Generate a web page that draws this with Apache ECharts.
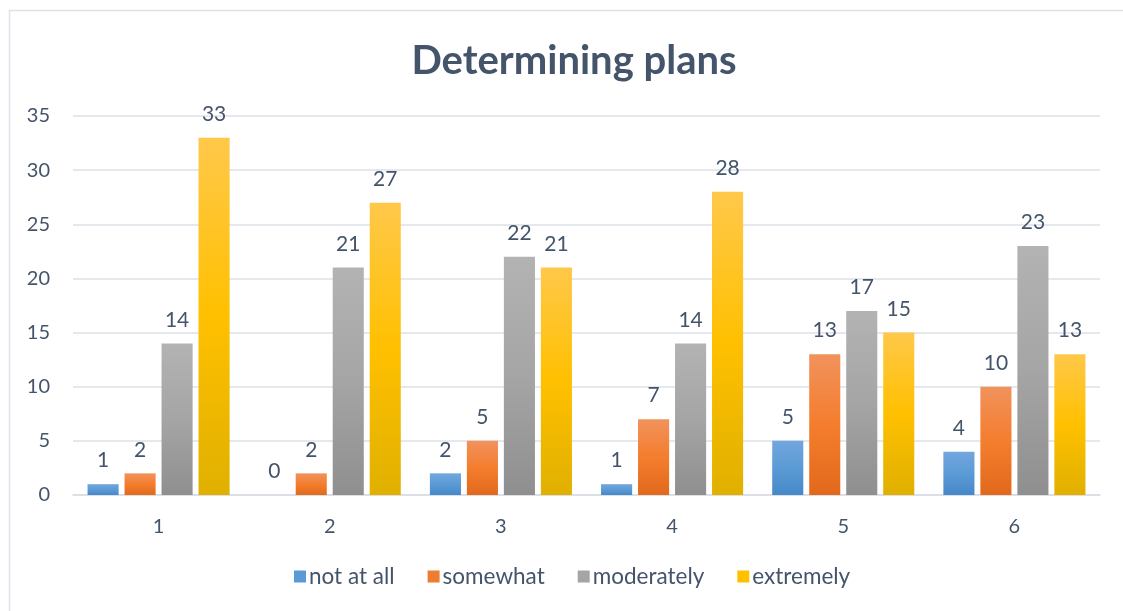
<!DOCTYPE html>
<html>
<head>
<meta charset="utf-8">
<script src="https://cdn.jsdelivr.net/npm/echarts@6/dist/echarts.min.js"></script>
<style>
  html, body { margin: 0; padding: 0; background: #ffffff; }
  #chart { width: 1123px; height: 611px; }
</style>
</head>
<body>
<div id="chart"></div>
<script>
// Survey answers per item
const categories = ['1', '2', '3', '4', '5', '6'];
const seriesNames = ['not at all', 'somewhat', 'moderately', 'extremely'];
const notAtAll   = [1, 0, 2, 1, 5, 4];
const somewhat   = [2, 2, 5, 7, 13, 10];
const moderately = [14, 21, 22, 14, 17, 23];
const extremely  = [33, 27, 21, 28, 15, 13];
const yTicks = [0, 5, 10, 15, 20, 25, 30, 35];

const textColor = '#44546A';
const fontFamily = 'Lato, "Open Sans", sans-serif';

function grad(top, mid, bottom) {
  return new echarts.graphic.LinearGradient(0, 0, 0, 1, [
    { offset: 0, color: top },
    { offset: 0.5, color: mid },
    { offset: 1, color: bottom }
  ]);
}

const fills = [
  grad('#72a6de', '#5b9bd5', '#4688c8'),
  grad('#f1925c', '#f47d2e', '#e2691b'),
  grad('#b3b3b3', '#a5a5a5', '#8f8f8f'),
  grad('#ffc84a', '#ffc000', '#e0b000')
];
const legendColors = ['#5b9bd5', '#ed7d31', '#a5a5a5', '#ffc000'];
const values = [notAtAll, somewhat, moderately, extremely];

const chart = echarts.init(document.getElementById('chart'), null, { renderer: 'canvas' });

chart.setOption({
  backgroundColor: '#ffffff',
  animation: false,
  graphic: [{
    type: 'rect',
    shape: { x: 9.5, y: 10.5, width: 1130, height: 620 },
    style: { fill: 'none', stroke: '#dde2ea', lineWidth: 1.5 },
    silent: true
  }],
  title: {
    text: 'Determining plans',
    left: 569,
    top: 36,
    textAlign: 'center',
    textStyle: {
      color: textColor,
      fontFamily: fontFamily,
      fontWeight: 'bold',
      fontSize: 40
    }
  },
  legend: {
    data: seriesNames.map((n, i) => ({ name: n, itemStyle: { color: legendColors[i] } })),
    bottom: 18,
    left: 289,
    itemWidth: 12,
    itemHeight: 12,
    itemGap: 33,
    icon: 'rect',
    textStyle: { color: textColor, fontFamily: fontFamily, fontSize: 22.5, padding: [0, 0, 0, -2] }
  },
  grid: {
    left: 73,
    right: 23,
    top: 116,
    bottom: 116,
    containLabel: false
  },
  xAxis: {
    type: 'category',
    data: categories,
    axisLine: { lineStyle: { color: '#d9dde3', width: 1.5 } },
    axisTick: { show: false },
    axisLabel: { color: textColor, fontFamily: fontFamily, fontSize: 20, margin: 22 }
  },
  yAxis: {
    type: 'value',
    min: yTicks[0],
    max: yTicks[yTicks.length - 1],
    interval: 5,
    axisLine: { show: false },
    axisTick: { show: false },
    axisLabel: { color: textColor, fontFamily: fontFamily, fontSize: 20, margin: 23 },
    splitLine: { lineStyle: { color: '#dde1e7', width: 1.5 } }
  },
  series: seriesNames.map((name, i) => ({
    name: name,
    type: 'bar',
    data: values[i],
    barGap: '19%',
    barCategoryGap: '17%',
    itemStyle: { color: fills[i] },
    label: {
      show: true,
      position: 'top',
      distance: 13,
      color: textColor,
      fontFamily: fontFamily,
      fontSize: 21
    }
  }))
});
</script>
</body>
</html>
